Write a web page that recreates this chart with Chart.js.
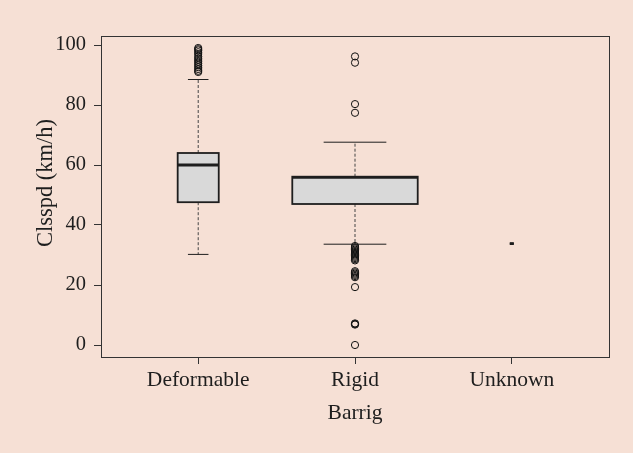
<!DOCTYPE html>
<html>
<head>
<meta charset="utf-8">
<script src="https://cdn.jsdelivr.net/npm/chart.js@4/dist/chart.umd.min.js"></script>
<style>
  html, body { margin: 0; padding: 0; background: #F6E0D5; }
  #wrap { width: 633px; height: 453px; }
</style>
</head>
<body>
<div id="wrap"><canvas id="c" width="633" height="453"></canvas></div>
<script>
// ---- data ----
const categories = ['Deformable', 'Rigid', 'Unknown'];
const counts = [105, 980, 1];            // group sizes (boxes drawn with varwidth)
const lowerWhisker = [30.2, 33.6, 33.8];
const q1 = [47.6, 47.0, 33.8];
const median = [60.0, 55.9, 33.8];
const q3 = [64.0, 56.1, 33.8];
const upperWhisker = [88.5, 67.6, 33.8];
const outliersDeformable = [99, 98.6, 98.2, 97.6, 97, 96.2, 95.6, 95, 94.4, 93.8, 93.2, 92.6, 92, 91.4, 91];
const outliersRigid = [96.2, 94.1, 80.3, 77.4,
  33, 32.6, 32.2, 31.8, 31.4, 31, 30.6, 30.2, 29.8, 29.4, 29, 28.6, 28.2,
  24.6, 24.2, 23.8, 23.4, 23, 22.6, 19.3, 7.2, 7.0, 6.8, 0];
const outliersUnknown = [];
const yTicks = [0, 20, 40, 60, 80, 100];
const yTitle = 'Clsspd (km/h)';
const xTitle = 'Barrig';

const outlierGroups = [outliersDeformable, outliersRigid, outliersUnknown];
const outlierPoints = [];
outlierGroups.forEach((arr, i) => arr.forEach(v => outlierPoints.push({ x: i + 1, y: v })));

const FONT = "'Liberation Serif', 'Times New Roman', serif";
const INK = '#1e1e1e';

const boxPlugin = {
  id: 'boxes',
  beforeDatasetsDraw(chart) {
    const { ctx } = chart;
    const x = chart.scales.x, y = chart.scales.y;
    const maxN = Math.max(...counts);
    ctx.save();
    categories.forEach((c, i) => {
      const pos = i + 1;
      const hw = 0.4 * Math.sqrt(counts[i] / maxN);
      const xl = x.getPixelForValue(pos - hw);
      const xr = x.getPixelForValue(pos + hw);
      const xc = x.getPixelForValue(pos);
      const cl = x.getPixelForValue(pos - hw / 2);
      const cr = x.getPixelForValue(pos + hw / 2);
      const yq1 = y.getPixelForValue(q1[i]);
      const yq3 = y.getPixelForValue(q3[i]);
      const ym = y.getPixelForValue(median[i]);
      const ylo = y.getPixelForValue(lowerWhisker[i]);
      const yhi = y.getPixelForValue(upperWhisker[i]);
      // whiskers (dashed)
      ctx.strokeStyle = '#444444';
      ctx.lineWidth = 1;
      ctx.setLineDash([3, 2]);
      ctx.beginPath();
      ctx.moveTo(xc, yq3); ctx.lineTo(xc, yhi);
      ctx.moveTo(xc, yq1); ctx.lineTo(xc, ylo);
      ctx.stroke();
      ctx.setLineDash([]);
      // staples
      ctx.strokeStyle = INK;
      ctx.beginPath();
      ctx.moveTo(cl, yhi); ctx.lineTo(cr, yhi);
      ctx.moveTo(cl, ylo); ctx.lineTo(cr, ylo);
      ctx.stroke();
      // box
      ctx.fillStyle = '#D9D9D9';
      ctx.fillRect(xl, yq3, xr - xl, yq1 - yq3);
      ctx.lineWidth = 1.8;
      ctx.strokeStyle = INK;
      ctx.strokeRect(xl, yq3, xr - xl, yq1 - yq3);
      // median
      ctx.lineWidth = 2.8;
      ctx.beginPath();
      ctx.moveTo(xl, ym); ctx.lineTo(xr, ym);
      ctx.stroke();
    });
    ctx.restore();
  },
  afterDraw(chart) {
    const { ctx, chartArea: a } = chart;
    ctx.save();
    ctx.strokeStyle = '#333333';
    ctx.lineWidth = 1;
    ctx.strokeRect(Math.round(a.left) + 0.5, Math.round(a.top) + 0.5,
      Math.round(a.right - a.left), Math.round(a.bottom - a.top));
    // y-axis title (placed as in the reference)
    ctx.translate(46, 183);
    ctx.rotate(-Math.PI / 2);
    ctx.fillStyle = INK;
    ctx.font = '22.5px ' + FONT;
    ctx.textAlign = 'center';
    ctx.textBaseline = 'middle';
    ctx.fillText(yTitle, 0, 0);
    ctx.restore();
  }
};

new Chart(document.getElementById('c'), {
  type: 'scatter',
  data: {
    datasets: [{
      label: 'outliers',
      data: outlierPoints,
      pointStyle: 'circle',
      pointRadius: 3.6,
      pointBorderWidth: 1,
      pointBorderColor: '#111111',
      pointBackgroundColor: 'rgba(0,0,0,0)',
      showLine: false
    }]
  },
  options: {
    responsive: false,
    animation: false,
    events: [],
    layout: { padding: { top: 36, right: 24, left: 0, bottom: 0 } },
    plugins: { legend: { display: false }, tooltip: { enabled: false } },
    scales: {
      x: {
        type: 'linear',
        min: 0.38, max: 3.62,
        afterBuildTicks: s => { s.ticks = categories.map((c, i) => ({ value: i + 1 })); },
        afterFit: s => { s.height = 96; },
        ticks: {
          callback: (v) => categories[Math.round(v) - 1],
          color: INK, font: { family: FONT, size: 21.5 }, padding: 3, maxRotation: 0, autoSkip: false
        },
        grid: { display: true, drawOnChartArea: false, drawTicks: true, tickLength: 7, color: '#333333' },
        border: { display: false },
        title: { display: true, text: xTitle, color: INK, font: { family: FONT, size: 21.5 }, padding: { top: 0, bottom: 27 } }
      },
      y: {
        type: 'linear',
        min: -4, max: 103,
        afterBuildTicks: s => { s.ticks = yTicks.map(v => ({ value: v })); },
        afterFit: s => { s.width = 101; },
        ticks: { color: INK, font: { family: FONT, size: 20.5 }, padding: 8 },
        grid: { display: true, drawOnChartArea: false, drawTicks: true, tickLength: 7, color: '#333333' },
        border: { display: false },
        title: { display: false, text: yTitle }
      }
    }
  },
  plugins: [boxPlugin]
});
</script>
</body>
</html>
